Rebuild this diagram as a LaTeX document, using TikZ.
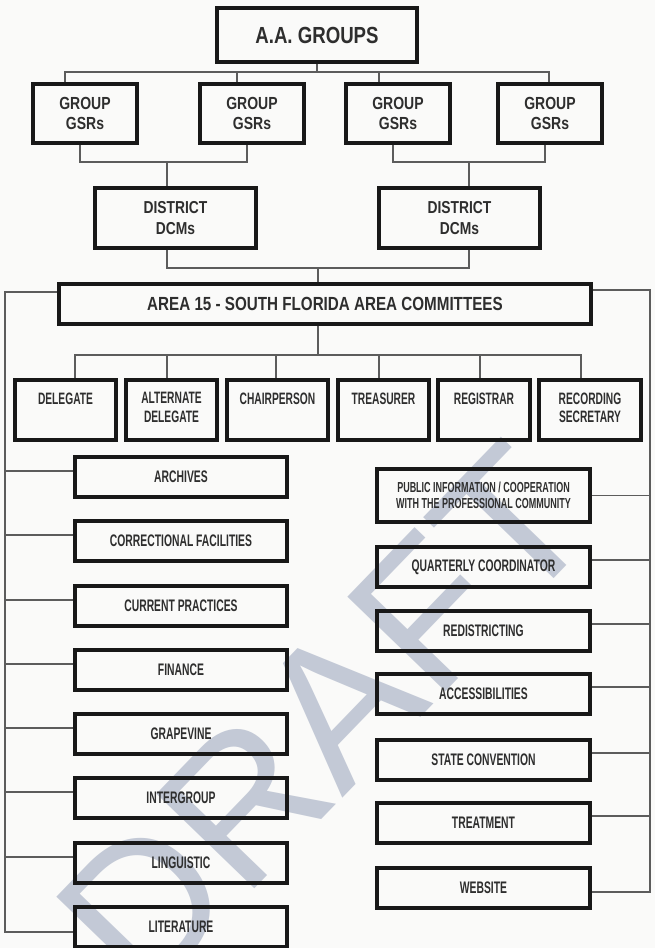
\documentclass[tikz,border=0pt]{standalone}
\usepackage{fontspec}
\setmainfont{Liberation Sans}
\newfontfamily\widefont{Liberation Sans}[FakeStretch=0.8]
\newfontfamily\narrowfont{Liberation Sans}[FakeStretch=0.62]
\usepackage{tikz}
\usetikzlibrary{calc}
\usepackage{xcolor}

\definecolor{inkline}{RGB}{24,24,24}
\definecolor{inktext}{RGB}{46,46,46}
\definecolor{wire}{RGB}{92,92,92}
\definecolor{stamp}{RGB}{195,201,214}
\definecolor{paper}{RGB}{250,250,249}

\begin{document}
\begin{tikzpicture}[x=1pt,y=-1pt,
    box/.style={draw=inkline, line width=3.2pt, rectangle, inner sep=0pt, text=inktext, align=center},
    gsrbox/.style={box, minimum width=104pt, minimum height=59pt, font=\widefont\bfseries\fontsize{17.5}{20}\selectfont},
    distbox/.style={box, minimum width=161pt, minimum height=60pt, font=\widefont\bfseries\fontsize{17.3}{21}\selectfont},
    offbox/.style={box, minimum height=60pt},
    offtext/.style={anchor=north, inner sep=0pt, text=inktext, align=center, font=\narrowfont\bfseries\fontsize{16.5}{18.5}\selectfont},
    combox/.style={box, minimum width=213pt, minimum height=40pt, font=\narrowfont\bfseries\fontsize{16.7}{18}\selectfont},
    wirel/.style={draw=wire, line width=1.7pt},
    stamptext/.style={text=stamp, rotate=46, inner sep=0pt, font=\fontsize{198}{198}\selectfont}]

    \fill[paper] (0,0) rectangle (655,948);
    \useasboundingbox (0,0) rectangle (655,948);

    % watermark under everything
    \node[stamptext] (draft) at (324,719) {DRAFT};

    % top levels
    \node[box, minimum width=200pt, minimum height=54pt, font=\widefont\bfseries\fontsize{23.3}{25}\selectfont] (aa) at (317,35) {A.A. GROUPS};
    \foreach \n/\x in {g1/85, g2/252, g3/398, g4/550}
        \node[gsrbox] (\n) at (\x,113.5) {GROUP\\GSRs};
    \foreach \n/\x in {d1/175.5, d2/459.5}
        \node[distbox] (\n) at (\x,218) {DISTRICT\\DCMs};
    \node[box, minimum width=532pt, minimum height=40pt, font=\widefont\bfseries\fontsize{19}{21}\selectfont] (area) at (325,304) {AREA 15 - SOUTH FLORIDA AREA COMMITTEES};

    % officers
    \foreach \n/\x/\w/\t in {o1/65.5/101/DELEGATE, o2/171.5/91/ALTERNATE\\DELEGATE, o3/277.5/101/CHAIRPERSON,
                             o4/383.5/91/TREASURER, o5/484/92/REGISTRAR, o6/590/102/RECORDING\\SECRETARY} {
        \node[offbox, minimum width=\w pt] (\n) at (\x,410) {};
        \node[offtext] (\n-t) at ([yshift=-14pt]\n.north) {\t};
    }

    % committees, left column
    \foreach \n/\y/\t in {c1/477/ARCHIVES, c2/541/CORRECTIONAL FACILITIES, c3/606/CURRENT PRACTICES, c4/670/FINANCE,
                          c5/734/GRAPEVINE, c6/798/INTERGROUP, c7/863/LINGUISTIC, c8/927/LITERATURE}
        \node[combox, minimum width=212pt] (\n) at (181,\y) {\t};

    % committees, right column
    \node[combox, minimum height=53pt, font=\narrowfont\bfseries\fontsize{14.5}{15.5}\selectfont] (r1) at (483.5,495.5)
        {PUBLIC INFORMATION / COOPERATION\\WITH THE PROFESSIONAL COMMUNITY};
    \foreach \n/\y/\t in {r2/567/QUARTERLY COORDINATOR, r3/631/REDISTRICTING, r4/694/ACCESSIBILITIES,
                          r5/760/STATE CONVENTION, r6/823/TREATMENT, r7/888/WEBSITE}
        \node[combox] (\n) at (483.5,\y) {\t};

    % connectors
    \coordinate (gbus) at (317,72);
    \coordinate (dbus1) at (167,162);
    \coordinate (dbus2) at (469,162);
    \coordinate (abus) at (318,268);
    \coordinate (obus) at (318,355);
    \coordinate (ltop) at (5,292);
    \coordinate (lbot) at (5,932);
    \coordinate (rtop) at (650,290);
    \coordinate (rbot) at (650,892);

    \draw[wirel] (aa.south) -- (gbus);
    \foreach \n/\s in {g1/-20, g2/-15, g3/-19, g4/-1}
        \draw[wirel] ([xshift=\s pt]\n.north) |- (gbus);

    \draw[wirel] ([xshift=-5pt]g1.south) |- (dbus1);
    \draw[wirel] ([xshift=-5pt]g2.south) |- (dbus1);
    \draw[wirel] (dbus1) -- (dbus1 |- d1.north);
    \draw[wirel] ([xshift=-5pt]g3.south) |- (dbus2);
    \draw[wirel] ([xshift=-5pt]g4.south) |- (dbus2);
    \draw[wirel] (dbus2) -- (dbus2 |- d2.north);

    \draw[wirel] (dbus1 |- d1.south) |- (abus);
    \draw[wirel] (dbus2 |- d2.south) |- (abus);
    \draw[wirel] (abus) -- (abus |- area.north);

    \draw[wirel] (obus |- area.south) -- (obus);
    \foreach \n/\s in {o1/9.5, o2/-4.5, o3/-1.5, o4/-4.5, o5/-4, o6/-9}
        \draw[wirel] ([xshift=\s pt]\n.north) |- (obus);

    % side buses
    \draw[wirel] ([yshift=12pt]area.west) -- (ltop) -- (lbot) -- (lbot -| c8.west);
    \foreach \n in {c1,c2,c3,c4,c5,c6,c7}
        \draw[wirel] ([yshift=6pt]\n.west) -| (ltop);
    \draw[wirel] ([yshift=14pt]area.east) -- (rtop) -- (rbot) -- (rbot -| r7.east);
    \draw[wirel] (r1.east) -| (rtop);
    \foreach \n in {r2,r3,r4,r5,r6}
        \draw[wirel] ([yshift=7pt]\n.east) -| (rtop);

\end{tikzpicture}
\end{document}
